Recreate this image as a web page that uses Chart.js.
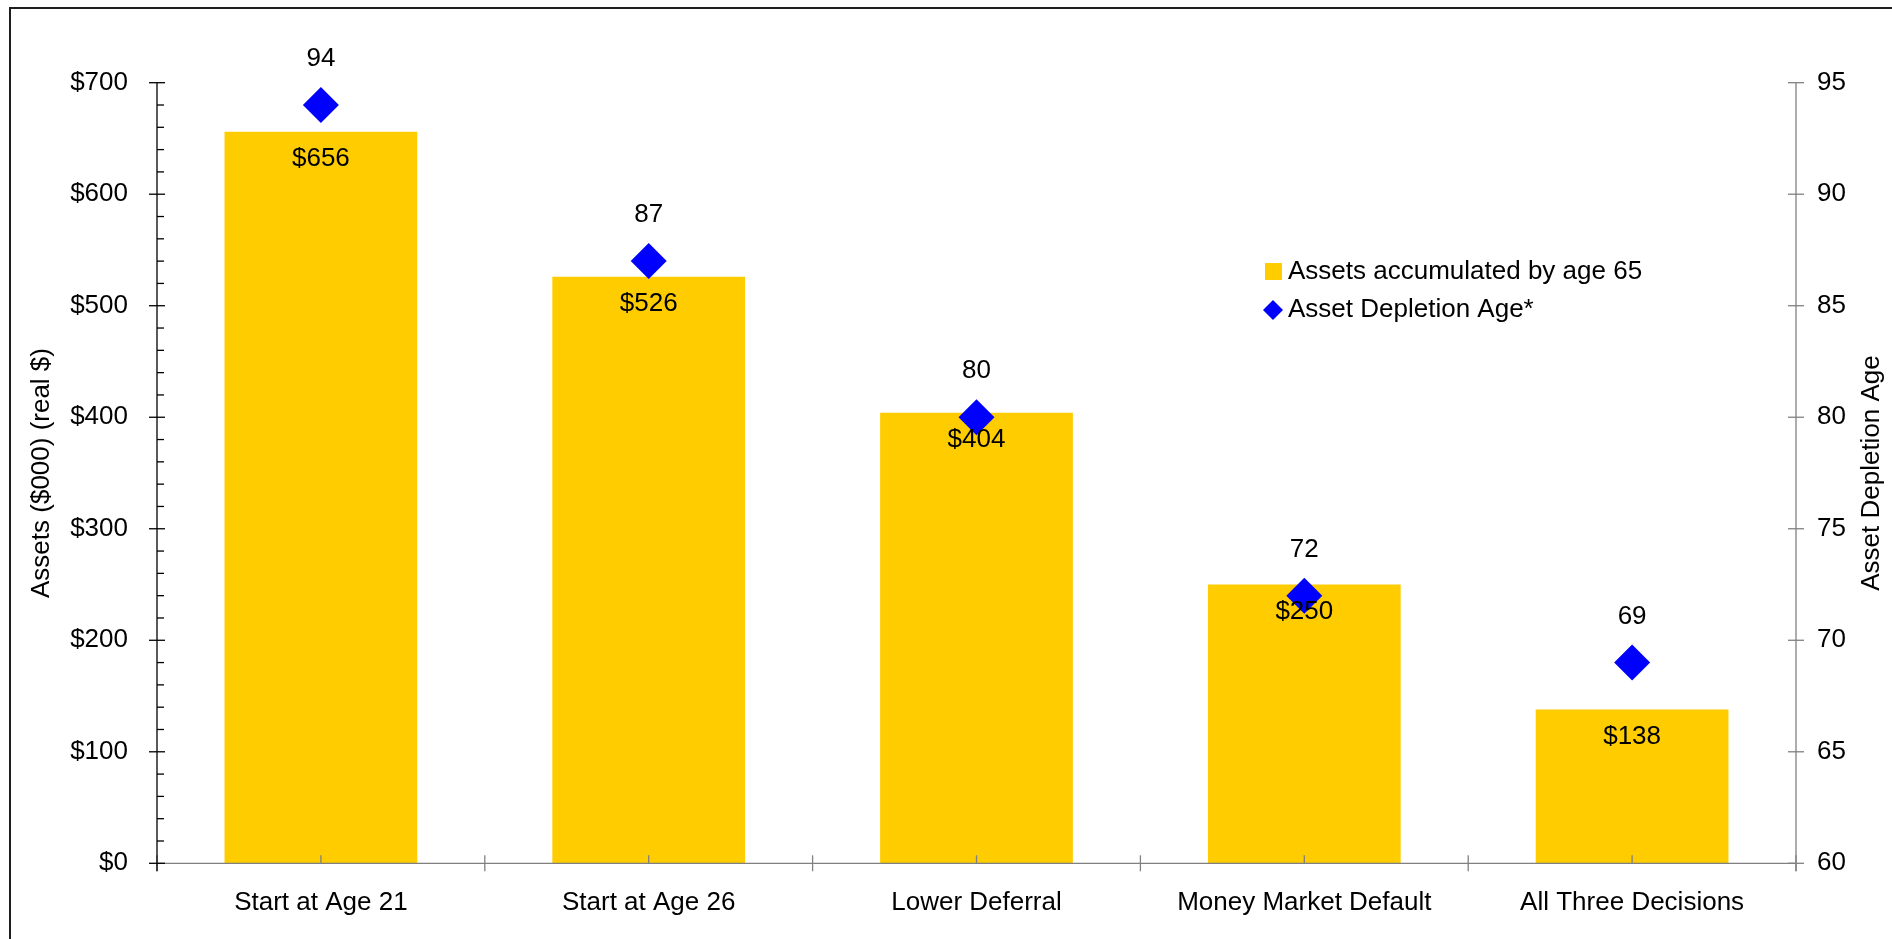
<!DOCTYPE html>
<html>
<head>
<meta charset="utf-8">
<title>Assets and Asset Depletion Age</title>
<script src="https://cdn.jsdelivr.net/npm/chart.js@4.4.1/dist/chart.umd.min.js"></script>
<style>
    html, body { margin: 0; padding: 0; background: #fff; overflow: hidden; }
    #wrap { position: relative; width: 1892px; height: 939px; }
    #frame {
        position: absolute; left: 9px; top: 7px; right: -10px; bottom: -10px;
        border-left: 2px solid #1e1e1e; border-top: 2px solid #1e1e1e;
        pointer-events: none;
    }
</style>
</head>
<body>
<div id="wrap">
    <canvas id="graficoAssets" width="1892" height="939"></canvas>
    <div id="frame"></div>
</div>
<script>
const categories = ['Start at Age 21', 'Start at Age 26', 'Lower Deferral', 'Money Market Default', 'All Three Decisions'];
const assets = [656, 526, 404, 250, 138];
const depletionAge = [94, 87, 80, 72, 69];
const assetTicks = [0, 700, 100];   // min, max, step
const ageTicks = [60, 95, 5];

const FONT = { family: "'Liberation Sans', Arial, sans-serif", size: 26 };
const FONT_CSS = "26px 'Liberation Sans', Arial, sans-serif";

function line(ctx, x1, y1, x2, y2) {
    ctx.beginPath();
    ctx.moveTo(x1, y1);
    ctx.lineTo(x2, y2);
    ctx.stroke();
}

// axis lines with excel-style tick marks
const axisLines = {
    id: 'axisLines',
    afterDatasetsDraw(chart) {
        const { ctx, chartArea: a, scales: { x, y, y1 } } = chart;
        ctx.save();
        ctx.lineWidth = 1.3;

        // right axis (gray)
        ctx.strokeStyle = '#808080';
        line(ctx, a.right, a.top, a.right, a.bottom + 8);
        for (let v = ageTicks[0]; v <= ageTicks[1]; v += ageTicks[2]) {
            const py = y1.getPixelForValue(v);
            line(ctx, a.right - 8, py, a.right + 8, py);
        }

        // category axis (gray)
        line(ctx, a.left, a.bottom, a.right, a.bottom);
        for (let i = 0; i <= categories.length; i++) {
            const px = x.getPixelForValue(i - 0.5);
            line(ctx, px, a.bottom - 8, px, a.bottom + 8);
        }
        for (let i = 0; i < categories.length; i++) {
            const px = x.getPixelForValue(i);
            line(ctx, px, a.bottom - 8, px, a.bottom);
        }

        // left axis (black), minor ticks every 20
        ctx.strokeStyle = '#000';
        line(ctx, a.left, a.top, a.left, a.bottom + 8);
        for (let v = assetTicks[0]; v <= assetTicks[1]; v += 20) {
            const py = y.getPixelForValue(v);
            if (v % assetTicks[2] === 0) line(ctx, a.left - 8, py, a.left + 8, py);
            else line(ctx, a.left, py, a.left + 7, py);
        }
        ctx.restore();
    }
};

// value labels, legend and right axis title
const etichette = {
    id: 'etichette',
    afterDatasetsDraw(chart) {
        const { ctx, chartArea: a } = chart;
        ctx.save();
        ctx.font = FONT_CSS;
        ctx.fillStyle = '#000';
        ctx.textAlign = 'center';
        ctx.textBaseline = 'middle';

        chart.getDatasetMeta(1).data.forEach((bar, i) => {
            ctx.fillText('$' + assets[i], bar.x, bar.y + 27);
        });
        chart.getDatasetMeta(0).data.forEach((pt, i) => {
            ctx.fillText(String(depletionAge[i]), pt.x, pt.y - 46);
        });

        // legend
        const ds = chart.data.datasets;
        ctx.textAlign = 'left';
        ctx.fillStyle = ds[1].backgroundColor;
        ctx.fillRect(1265, 263, 17, 17);
        ctx.fillStyle = '#000';
        ctx.fillText(ds[1].label, 1288, 272);

        ctx.fillStyle = ds[0].pointBackgroundColor;
        ctx.beginPath();
        ctx.moveTo(1273, 300);
        ctx.lineTo(1283, 310);
        ctx.lineTo(1273, 320);
        ctx.lineTo(1263, 310);
        ctx.closePath();
        ctx.fill();
        ctx.fillStyle = '#000';
        ctx.fillText(ds[0].label, 1288, 310);

        // right axis title, reading upward
        ctx.translate(1872, (a.top + a.bottom) / 2);
        ctx.rotate(-Math.PI / 2);
        ctx.textAlign = 'center';
        ctx.fillText('Asset Depletion Age', 0, 0);
        ctx.restore();
    }
};

const canvas = document.getElementById('graficoAssets');

new Chart(canvas, {
    data: {
        labels: categories,
        datasets: [{
            type: 'line',
            label: 'Asset Depletion Age*',
            data: depletionAge,
            yAxisID: 'y1',
            showLine: false,
            pointStyle: 'rectRot',
            pointRadius: 18,
            pointHoverRadius: 18,
            pointBackgroundColor: '#0000FF',
            pointBorderWidth: 0,
            order: 1
        }, {
            type: 'bar',
            label: 'Assets accumulated by age 65',
            data: assets,
            yAxisID: 'y',
            backgroundColor: '#FFCC00',
            borderWidth: 0,
            barPercentage: 0.588,
            categoryPercentage: 1,
            order: 2
        }]
    },
    options: {
        responsive: false,
        animation: false,
        layout: { padding: { top: 82.7, left: 0, right: 0, bottom: 0 } },
        scales: {
            x: {
                type: 'category',
                offset: true,
                grid: { display: false, drawTicks: false },
                border: { display: false },
                ticks: { color: '#000', font: FONT, padding: 24, maxRotation: 0, autoSkip: false },
                afterFit(scale) { scale.height = 75.7; }
            },
            y: {
                position: 'left',
                min: assetTicks[0],
                max: assetTicks[1],
                grid: { display: false, drawTicks: false },
                border: { display: false },
                ticks: {
                    stepSize: assetTicks[2],
                    color: '#000',
                    font: FONT,
                    padding: 29,
                    callback: v => '$' + v
                },
                title: {
                    display: true,
                    text: 'Assets ($000) (real $)',
                    color: '#000',
                    font: FONT,
                    padding: { top: 26, bottom: 0 }
                },
                afterFit(scale) { scale.width = 157; }
            },
            y1: {
                position: 'right',
                min: ageTicks[0],
                max: ageTicks[1],
                grid: { display: false, drawTicks: false },
                border: { display: false },
                ticks: { stepSize: ageTicks[2], color: '#000', font: FONT, padding: 21 },
                afterFit(scale) { scale.width = 96; }
            }
        },
        plugins: {
            legend: { display: false },
            tooltip: { enabled: false }
        }
    },
    plugins: [axisLines, etichette]
});
</script>
</body>
</html>
